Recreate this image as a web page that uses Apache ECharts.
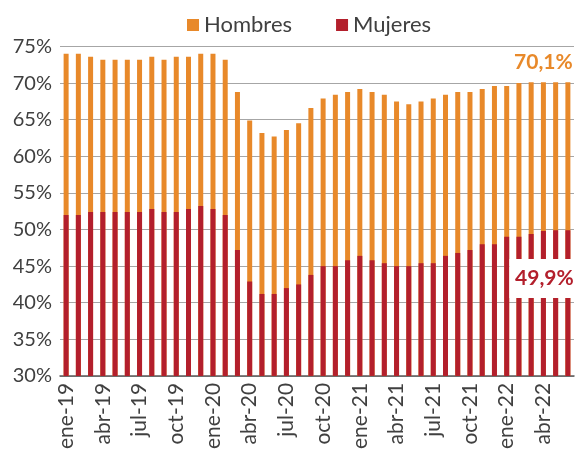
<!DOCTYPE html>
<html>
<head>
<meta charset="utf-8">
<script src="https://cdn.jsdelivr.net/npm/echarts@6/dist/echarts.min.js"></script>
<style>
  html, body { margin: 0; padding: 0; background: #fff; }
  #chart { width: 578px; height: 452px; }
</style>
</head>
<body>
<div id="chart"></div>
<script>
const categories = [
  'ene-19','feb-19','mar-19','abr-19','may-19','jun-19','jul-19','ago-19','sep-19','oct-19','nov-19','dic-19',
  'ene-20','feb-20','mar-20','abr-20','may-20','jun-20','jul-20','ago-20','sep-20','oct-20','nov-20','dic-20',
  'ene-21','feb-21','mar-21','abr-21','may-21','jun-21','jul-21','ago-21','sep-21','oct-21','nov-21','dic-21',
  'ene-22','feb-22','mar-22','abr-22','may-22','jun-22'
];
const hombres = [
  74.0, 74.0, 73.6, 73.2, 73.2, 73.2, 73.2, 73.6, 73.2, 73.6, 73.6, 74.0,
  74.0, 73.2, 68.8, 64.9, 63.2, 62.7, 63.6, 64.5, 66.6, 67.9, 68.4, 68.8,
  69.2, 68.8, 68.4, 67.5, 67.1, 67.5, 67.9, 68.4, 68.8, 68.8, 69.2, 69.6,
  69.6, 70.0, 70.1, 70.1, 70.1, 70.1
];
const mujeres = [
  52.0, 52.0, 52.4, 52.4, 52.4, 52.4, 52.4, 52.8, 52.4, 52.4, 52.8, 53.2,
  52.8, 52.0, 47.2, 42.9, 41.2, 41.2, 42.0, 42.5, 43.8, 45.0, 45.0, 45.8,
  46.4, 45.8, 45.4, 45.0, 45.0, 45.4, 45.4, 46.4, 46.8, 47.2, 48.0, 48.0,
  49.0, 49.0, 49.4, 49.8, 49.9, 49.9
];
const yTicks = { min: 30, max: 75, step: 5 };

const orange = '#E8892A';
const red = '#B31F2C';
const textColor = '#404040';
const fontFamily = 'Lato, sans-serif';

const chart = echarts.init(document.getElementById('chart'));
const option = {
  animation: false,
  textStyle: { fontFamily: fontFamily },
  legend: {
    left: 182,
    top: 9,
    icon: 'rect',
    itemWidth: 12,
    itemHeight: 12,
    itemGap: 44,
    textStyle: { fontSize: 22, color: textColor, fontFamily: fontFamily }
  },
  grid: {
    left: 60,
    right: 4,
    top: 46.5,
    bottom: 74.3
  },
  xAxis: {
    type: 'category',
    data: categories,
    axisLine: { lineStyle: { color: '#595959', width: 1.5 } },
    axisTick: { show: false },
    axisLabel: {
      interval: 2,
      rotate: 90,
      margin: 7,
      fontSize: 21,
      color: textColor,
      fontFamily: fontFamily
    }
  },
  yAxis: {
    type: 'value',
    min: yTicks.min,
    max: yTicks.max,
    interval: yTicks.step,
    axisLine: { show: false },
    axisTick: { show: false },
    splitLine: { lineStyle: { color: '#A6A6A6', width: 1 } },
    axisLabel: {
      formatter: '{value}%',
      margin: 8,
      fontSize: 20,
      color: textColor,
      fontFamily: fontFamily
    }
  },
  series: [
    {
      name: 'Hombres',
      type: 'bar',
      data: hombres,
      barWidth: 5,
      barGap: '-100%',
      itemStyle: { color: orange },
      markPoint: {
        symbol: 'rect',
        symbolSize: 0,
        data: [{
          coord: ['abr-22', 72.8],
          label: {
            show: true,
            formatter: '70,1%',
            fontSize: 21,
            fontWeight: 'bold',
            color: orange,
            fontFamily: fontFamily
          }
        }]
      }
    },
    {
      name: 'Mujeres',
      type: 'bar',
      data: mujeres,
      barWidth: 5,
      barGap: '-100%',
      itemStyle: { color: red },
      markPoint: {
        data: [{
          coord: ['abr-22', 43.3],
          symbol: 'rect',
          symbolSize: [70, 39],
          symbolOffset: [1, 0],
          itemStyle: { color: '#fff' },
          label: {
            show: true,
            formatter: '49,9%',
            fontSize: 21,
            fontWeight: 'bold',
            color: red,
            fontFamily: fontFamily
          }
        }]
      }
    }
  ]
};
chart.setOption(option);
</script>
</body>
</html>
